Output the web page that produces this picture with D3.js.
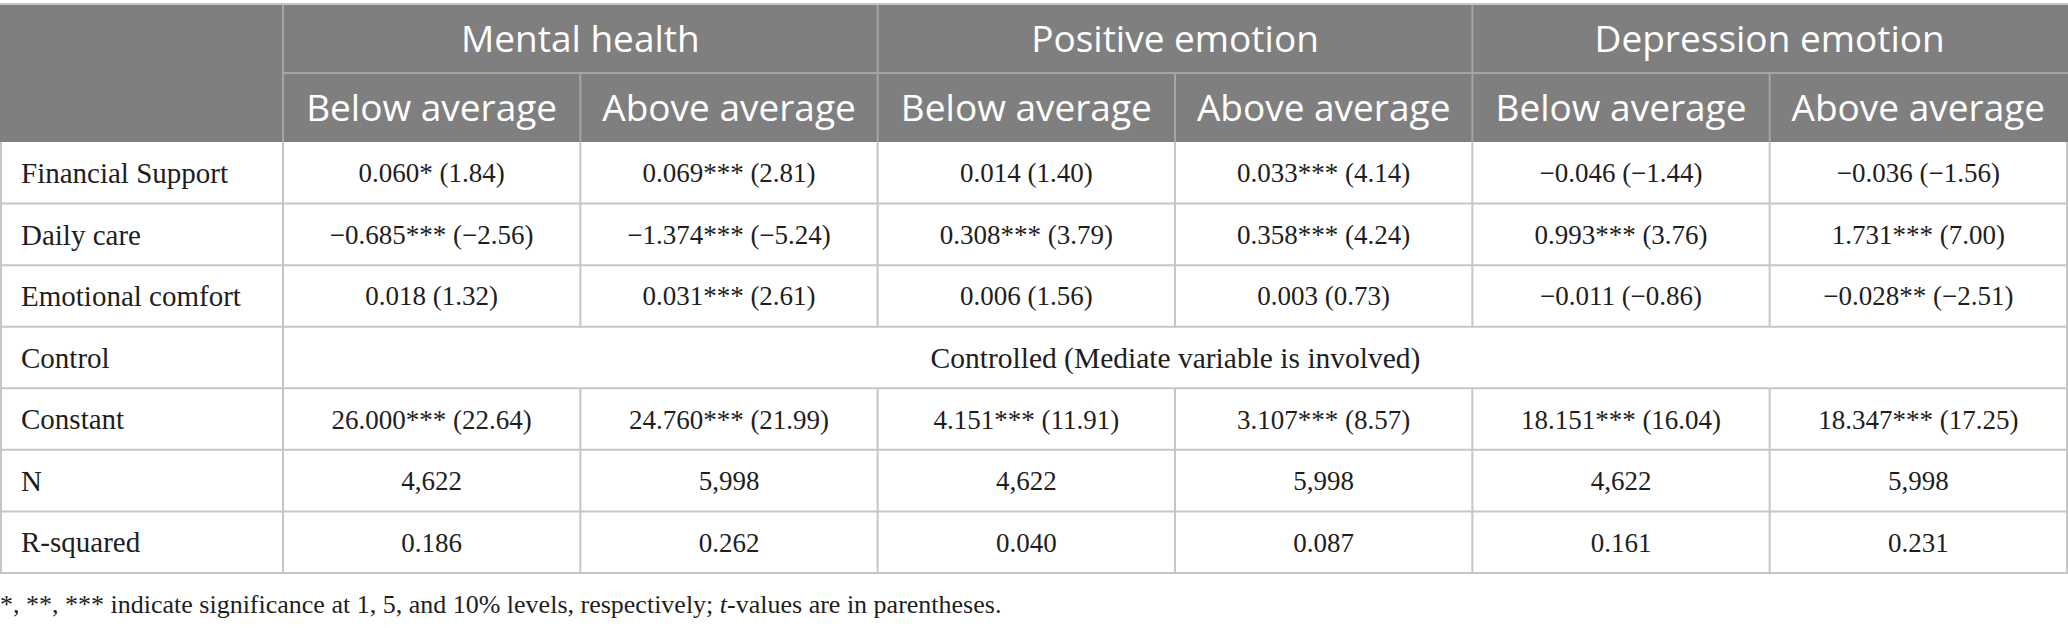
<!DOCTYPE html>
<html>
<head>
	<title>Regression table</title>
	<meta charset="utf-8">
	<script src="https://d3js.org/d3.v7.min.js"></script>
	<style>
		body { margin: 0; background: #fff; }
	</style>
</head>
<body>
	<script type="text/javascript">
		var width = 2068
		var height = 628

		// table content
		var groups = ["Mental health", "Positive emotion", "Depression emotion"]
		var subgroups = ["Below average", "Above average"]
		var rowLabels = ["Financial Support", "Daily care", "Emotional comfort", "Control", "Constant", "N", "R-squared"]

		var financialCoef = [0.060, 0.069, 0.014, 0.033, -0.046, -0.036]
		var financialStars = ["*", "***", "", "***", "", ""]
		var financialT = [1.84, 2.81, 1.40, 4.14, -1.44, -1.56]

		var dailyCoef = [-0.685, -1.374, 0.308, 0.358, 0.993, 1.731]
		var dailyStars = ["***", "***", "***", "***", "***", "***"]
		var dailyT = [-2.56, -5.24, 3.79, 4.24, 3.76, 7.00]

		var emotionalCoef = [0.018, 0.031, 0.006, 0.003, -0.011, -0.028]
		var emotionalStars = ["", "***", "", "", "", "**"]
		var emotionalT = [1.32, 2.61, 1.56, 0.73, -0.86, -2.51]

		var controlText = "Controlled (Mediate variable is involved)"

		var constantCoef = [26.000, 24.760, 4.151, 3.107, 18.151, 18.347]
		var constantStars = ["***", "***", "***", "***", "***", "***"]
		var constantT = [22.64, 21.99, 11.91, 8.57, 16.04, 17.25]

		var nValues = [4622, 5998, 4622, 5998, 4622, 5998]
		var rSquared = [0.186, 0.262, 0.040, 0.087, 0.161, 0.231]

		var fCoef = d3.format(".3f")   // d3 v7 uses the real minus sign
		var fT = d3.format(".2f")
		var fN = d3.format(",")

		function cells(coef, stars, t) {
			return coef.map((c, i) => fCoef(c) + stars[i] + " (" + fT(t[i]) + ")")
		}

		var bodyRows = [
			cells(financialCoef, financialStars, financialT),
			cells(dailyCoef, dailyStars, dailyT),
			cells(emotionalCoef, emotionalStars, emotionalT),
			null, // spanning row
			cells(constantCoef, constantStars, constantT),
			nValues.map(fN),
			rSquared.map(fCoef)
		]

		var svg = d3.select("body").append("svg")
			.attr("width", width)
			.attr("height", height)

		var labelW = 283
		var tableTop = 5, head1 = 73, head2 = 142, tableBottom = 573

		var x = d3.scaleBand().domain(d3.range(6)).range([labelW, width - 1])
		var xg = d3.scaleBand().domain(d3.range(3)).range([labelW, width - 1])
		var y = d3.scaleBand().domain(rowLabels).range([head2, tableBottom])

		var headFont = "'Open Sans', 'Noto Sans', sans-serif"
		var bodyFont = "'Liberation Serif', 'DejaVu Serif', serif"
		var lineCol = "#c6c6c6"
		var headLine = "#a5a5a5"
		var ink = "#1e1e1e"

		// header background
		svg.append("rect")
			.attr("x", 0).attr("y", tableTop)
			.attr("width", width).attr("height", head2 - tableTop)
			.attr("fill", "#7f7f7f")

		// header lines
		svg.append("line")
			.attr("x1", labelW).attr("x2", width).attr("y1", head1).attr("y2", head1)
			.attr("stroke", headLine).attr("stroke-width", 2)
		svg.selectAll(".gline").data(d3.range(3)).enter().append("line")
			.attr("x1", d => xg(d)).attr("x2", d => xg(d))
			.attr("y1", tableTop).attr("y2", head2)
			.attr("stroke", headLine).attr("stroke-width", 2)
		svg.selectAll(".sline").data([1, 3, 5]).enter().append("line")
			.attr("x1", d => x(d)).attr("x2", d => x(d))
			.attr("y1", head1).attr("y2", head2)
			.attr("stroke", headLine).attr("stroke-width", 2)

		// header text
		svg.selectAll(".gtext").data(groups).enter().append("text")
			.attr("x", (d, i) => xg(i) + xg.bandwidth() / 2)
			.attr("y", (tableTop + head1) / 2)
			.attr("dy", "0.36em")
			.attr("text-anchor", "middle")
			.attr("font-family", headFont)
			.attr("font-size", 37)
			.attr("fill", "#fff")
			.text(d => d)
		svg.selectAll(".stext").data(d3.range(6)).enter().append("text")
			.attr("x", d => x(d) + x.bandwidth() / 2)
			.attr("y", (head1 + head2) / 2)
			.attr("dy", "0.36em")
			.attr("text-anchor", "middle")
			.attr("font-family", headFont)
			.attr("font-size", 37)
			.attr("fill", "#fff")
			.text(d => subgroups[d % 2])

		// body grid
		svg.append("line")
			.attr("x1", 0).attr("x2", width).attr("y1", tableTop - 1).attr("y2", tableTop - 1)
			.attr("stroke", lineCol).attr("stroke-width", 2)
		svg.selectAll(".hline").data(rowLabels).enter().append("line")
			.attr("x1", 0).attr("x2", width)
			.attr("y1", d => y(d) + y.bandwidth()).attr("y2", d => y(d) + y.bandwidth())
			.attr("stroke", lineCol).attr("stroke-width", 2)
		svg.append("line")
			.attr("x1", 1).attr("x2", 1).attr("y1", head2).attr("y2", tableBottom)
			.attr("stroke", lineCol).attr("stroke-width", 2)
		svg.append("line")
			.attr("x1", width - 1).attr("x2", width - 1).attr("y1", head2).attr("y2", tableBottom)
			.attr("stroke", lineCol).attr("stroke-width", 2)

		rowLabels.forEach(function(r, ri) {
			var ys = y(r)
			var cuts = bodyRows[ri] ? d3.range(6) : [0]
			svg.selectAll(".v" + ri).data(cuts).enter().append("line")
				.attr("x1", d => x(d)).attr("x2", d => x(d))
				.attr("y1", ys).attr("y2", ys + y.bandwidth())
				.attr("stroke", lineCol).attr("stroke-width", 2)
		})

		// row labels
		svg.selectAll(".rlabel").data(rowLabels).enter().append("text")
			.attr("x", 21)
			.attr("y", d => y(d) + y.bandwidth() / 2)
			.attr("dy", "0.35em")
			.attr("font-family", bodyFont)
			.attr("font-size", 29)
			.attr("fill", ink)
			.text(d => d)

		// cell values
		bodyRows.forEach(function(vals, ri) {
			var yc = y(rowLabels[ri]) + y.bandwidth() / 2
			if (vals) {
				svg.selectAll(".c" + ri).data(vals).enter().append("text")
					.attr("x", (d, i) => x(i) + x.bandwidth() / 2)
					.attr("y", yc)
					.attr("dy", "0.35em")
					.attr("text-anchor", "middle")
					.attr("font-family", bodyFont)
					.attr("font-size", 27)
					.attr("fill", ink)
					.text(d => d)
			} else {
				svg.append("text")
					.attr("x", (labelW + width) / 2)
					.attr("y", yc)
					.attr("dy", "0.35em")
					.attr("text-anchor", "middle")
					.attr("font-family", bodyFont)
					.attr("font-size", 29.5)
					.attr("fill", ink)
					.text(controlText)
			}
		})

		// footnote
		var note = svg.append("text")
			.attr("x", 0)
			.attr("y", 613)
			.attr("font-family", bodyFont)
			.attr("font-size", 26)
			.attr("fill", ink)
		note.append("tspan").text("*, **, *** indicate significance at 1, 5, and 10% levels, respectively; ")
		note.append("tspan").attr("font-style", "italic").text("t")
		note.append("tspan").text("-values are in parentheses.")
	</script>
</body>
</html>
